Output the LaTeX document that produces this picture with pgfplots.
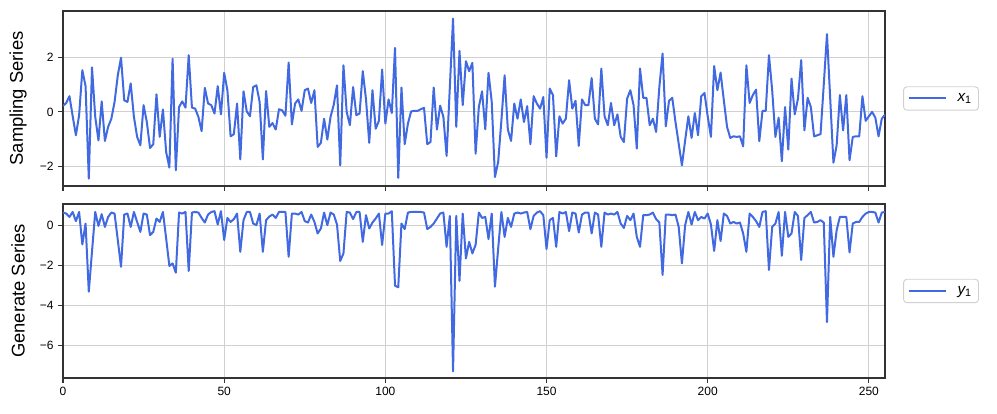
\documentclass[border=0pt]{standalone}
\usepackage{pgfplots}
\pgfplotsset{compat=1.18}
\usepackage{pgfplotstable}
\usepackage{fontspec}
\setmainfont{Liberation Sans}

\definecolor{royal}{HTML}{4169E1}
\definecolor{gridc}{HTML}{D0D0D0}
\definecolor{framec}{HTML}{333333}

% i  sampling  generate
\pgfplotstableread{
i x y
0 0.22 0.65
1 0.33 0.60
2 0.58 0.43
3 -0.15 0.68
4 -0.86 0.22
5 -0.12 0.68
6 1.54 -0.95
7 0.95 0.10
8 -2.46 -3.32
9 1.64 -1.30
10 -0.18 0.68
11 -1.05 -0.02
12 0.39 0.57
13 -1.07 -0.07
14 -0.55 0.43
15 -0.25 0.65
16 0.37 0.60
17 1.35 -0.73
18 2.00 -2.07
19 0.43 0.55
20 0.37 0.60
21 1.05 -0.07
22 -0.18 0.68
23 -0.92 0.18
24 -1.23 -0.32
25 0.25 0.60
26 -0.37 0.55
27 -1.33 -0.48
28 -1.19 -0.32
29 0.65 0.35
30 -0.92 0.18
31 0.09 0.68
32 -1.48 -0.65
33 -2.05 -2.03
34 1.96 -1.90
35 -2.15 -2.37
36 0.18 0.65
37 0.39 0.60
38 0.16 0.68
39 2.09 -2.28
40 0.16 0.65
41 0.12 0.68
42 -0.18 0.65
43 -0.71 0.38
44 0.89 0.15
45 0.31 0.55
46 0.25 0.68
47 -0.06 0.72
48 0.95 0.05
49 -0.09 0.72
50 1.44 -0.73
51 0.80 0.38
52 -0.90 0.18
53 -0.82 0.32
54 0.31 0.60
55 -1.75 -1.32
56 0.76 0.27
57 0.02 0.68
58 -0.16 0.68
59 0.92 0.10
60 0.98 0.02
61 0.37 0.60
62 -1.75 -1.32
63 0.77 0.27
64 -0.55 0.45
65 -0.41 0.55
66 -0.65 0.38
67 0.10 0.68
68 0.06 0.68
69 -0.14 0.68
70 1.82 -1.57
71 -0.46 0.60
72 0.31 0.60
73 0.46 0.55
74 0.04 0.68
75 0.80 0.22
76 0.86 0.15
77 0.33 0.55
78 0.80 0.18
79 -1.29 -0.40
80 -1.14 -0.15
81 -0.25 0.65
82 -1.02 0.02
83 -0.18 0.65
84 0.27 0.55
85 0.98 0.05
86 -1.97 -1.78
87 1.72 -1.40
88 0.00 0.68
89 -0.49 0.65
90 0.92 0.32
91 -0.12 0.68
92 -0.06 0.68
93 1.50 -0.82
94 0.46 0.52
95 -1.14 -0.15
96 0.80 0.15
97 -0.62 0.35
98 -0.33 0.60
99 1.56 -0.98
100 -0.43 0.60
101 0.46 0.60
102 -0.04 0.72
103 2.36 -3.02
104 -2.43 -3.10
105 0.90 0.10
106 -1.19 -0.18
107 -0.43 0.65
108 0.02 0.68
109 0.04 0.68
110 0.04 0.68
111 0.10 0.68
112 0.15 0.65
113 -1.19 -0.18
114 -1.11 -0.07
115 0.90 0.10
116 -0.65 0.35
117 0.23 0.60
118 -0.18 0.65
119 -1.62 -1.07
120 0.90 0.48
121 3.44 -7.32
122 -0.55 0.48
123 2.25 -2.78
124 0.25 0.60
125 1.87 -1.65
126 1.50 -0.82
127 1.81 -1.40
128 -1.54 -0.97
129 0.18 0.65
130 0.76 0.38
131 -0.64 0.43
132 1.44 -0.68
133 0.37 0.60
134 -2.40 -3.07
135 -1.84 -1.15
136 -0.31 0.68
137 1.35 -0.57
138 -0.65 0.38
139 -1.07 -0.07
140 0.31 0.60
141 -0.25 0.65
142 0.46 0.60
143 -0.37 0.65
144 0.21 0.68
145 -1.19 -0.18
146 0.58 0.48
147 0.31 0.65
148 0.12 0.72
149 0.55 0.52
150 -1.69 -1.18
151 0.86 0.27
152 0.62 0.38
153 -1.64 -1.07
154 -0.16 0.68
155 -0.43 0.60
156 -0.25 0.68
157 1.17 -0.28
158 0.12 0.65
159 0.41 0.60
160 -1.25 -0.35
161 0.46 0.55
162 0.25 0.65
163 0.25 0.65
164 1.25 -0.40
165 -0.25 0.65
166 -0.46 0.55
167 1.60 -1.07
168 -0.16 0.65
169 -0.49 0.55
170 0.33 0.60
171 -0.49 0.55
172 -0.09 0.68
173 -0.92 0.10
174 -1.11 -0.12
175 0.49 0.48
176 0.80 0.27
177 0.25 0.60
178 -1.35 -0.57
179 1.60 -1.07
180 0.52 0.52
181 0.52 0.52
182 -0.49 0.55
183 -0.25 0.65
184 -0.74 0.32
185 0.92 0.15
186 2.15 -2.48
187 -0.53 0.55
188 0.41 0.55
189 0.52 0.52
190 -0.37 0.55
191 -1.17 -0.07
192 -1.97 -1.90
193 -1.05 0.02
194 -0.16 0.68
195 -0.96 0.05
196 -0.04 0.68
197 -0.86 0.27
198 0.58 0.43
199 0.70 0.35
200 -0.16 0.60
201 -0.92 0.05
202 1.69 -1.28
203 0.80 0.27
204 1.45 -0.78
205 0.43 0.60
206 -0.55 0.48
207 -0.96 0.10
208 -0.90 0.18
209 -0.92 0.10
210 -0.90 0.15
211 -1.27 -0.40
212 1.72 -1.32
213 0.33 0.60
214 0.62 0.43
215 0.82 0.22
216 -1.08 -0.07
217 0.04 0.68
218 0.04 0.72
219 2.09 -2.23
220 0.80 -0.07
221 -0.92 0.10
222 -0.21 0.68
223 -1.82 -1.52
224 0.18 0.68
225 -1.39 -0.57
226 1.23 -0.40
227 -0.09 0.68
228 0.49 0.48
229 1.91 -1.73
230 -0.68 0.38
231 0.52 0.52
232 0.18 0.68
233 -0.90 0.15
234 -0.86 0.18
235 -0.82 0.27
236 1.00 0.15
237 2.87 -4.85
238 0.50 0.43
239 -1.87 -1.57
240 -1.23 -0.23
241 0.62 0.43
242 -0.68 0.43
243 0.62 0.43
244 -1.78 -1.35
245 -0.92 0.10
246 -0.90 0.18
247 -0.90 0.18
248 0.58 0.43
249 -0.33 0.60
250 -0.16 0.68
251 0.00 0.68
252 -0.21 0.65
253 -0.90 0.15
254 -0.25 0.65
255 -0.10 0.68
}\data

\pgfplotsset{
  panel/.style={
    scale only axis, width=616.5pt, anchor=south west,
    xmin=0, xmax=255,
    xtick={0,50,100,150,200,250},
    xtick pos=bottom, ytick pos=left,
    tick align=outside, major tick length=3.5pt,
    tick style={framec, line width=0.8pt},
    axis line style={framec, line width=0.9pt},
    grid=major, major grid style={gridc, line width=0.7pt},
    tick label style={font=\fontsize{9}{10}\selectfont},
    ylabel style={font=\fontsize{13.8}{15}\selectfont, at={(axis description cs:-0.0547,0.5)}, anchor=center},
    legend style={at={(1.022,0.5)}, anchor=west, draw=gridc, rounded corners=2.5pt,
      line width=0.7pt, font=\fontsize{11.5}{13}\selectfont, inner xsep=3pt, inner ysep=3pt},
    legend cell align=left,
    legend image code/.code={\draw[##1] (0pt,0pt) -- (28pt,0pt);},
  },
  series/.style={royal, line width=1.5pt, line join=round, no markers},
}

\begin{document}
\begin{tikzpicture}
\useasboundingbox (0,0) rectangle (747.75pt,310.5pt);
\begin{axis}[panel, at={(47.25pt,171pt)}, height=131.25pt,
  ymin=-2.73, ymax=3.72, ytick={-2,0,2}, yticklabels={−2,0,2},
  xticklabels={}, ylabel={Sampling Series}]
\addplot[series] table[x=i, y=x] {\data};
\addlegendentry{\hspace{6pt}\itshape x\textsubscript{\upshape 1}\hspace{3pt}}
\end{axis}
\begin{axis}[panel, at={(47.25pt,27pt)}, height=130.5pt,
  ymin=-7.65, ymax=1.08, ytick={-6,-4,-2,0}, yticklabels={−6,−4,−2,0},
  xticklabels={0,50,100,150,200,250}, ylabel={Generate Series}]
\addplot[series] table[x=i, y=y] {\data};
\addlegendentry{\hspace{6pt}\itshape y\textsubscript{\upshape 1}\hspace{3pt}}
\end{axis}
\end{tikzpicture}
\end{document}
